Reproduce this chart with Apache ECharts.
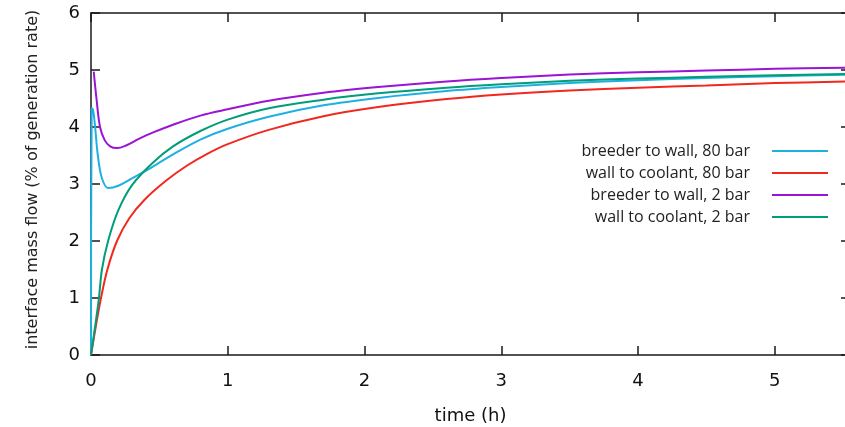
<!DOCTYPE html>
<html>
<head>
<meta charset="utf-8">
<script src="https://cdn.jsdelivr.net/npm/echarts@6/dist/echarts.min.js"></script>
<style>
html, body { margin: 0; padding: 0; background: #fff; }
#chart { width: 845px; height: 427px; }
</style>
</head>
<body>
<div id="chart"></div>
<script>
// names shown in legend
var names = ['breeder to wall, 80 bar', 'wall to coolant, 80 bar', 'breeder to wall, 2 bar', 'wall to coolant, 2 bar'];
var colors = ['#1fb0e2', '#f0281e', '#9a14d6', '#009e78'];

// breeder to wall, 80 bar
var tB80 = [0, 0.005, 0.015, 0.03, 0.05, 0.08, 0.125, 0.2, 0.3, 0.45, 0.6, 0.8, 1.0, 1.3, 1.7, 2.1, 2.6, 3.0, 3.5, 4.0, 4.5, 5.0, 5.55];
var vB80 = [0, 4.33, 4.3, 4.0, 3.5, 3.1, 2.93, 2.97, 3.1, 3.3, 3.52, 3.78, 3.97, 4.18, 4.38, 4.51, 4.63, 4.7, 4.77, 4.82, 4.86, 4.89, 4.92];
// wall to coolant, 80 bar
var tW80 = [0, 0.035, 0.073, 0.12, 0.19, 0.28, 0.39, 0.55, 0.7, 0.85, 1.0, 1.3, 1.7, 2.1, 2.6, 3.0, 3.5, 4.0, 4.5, 5.0, 5.55];
var vW80 = [0, 0.5, 1.0, 1.5, 2.0, 2.4, 2.72, 3.06, 3.32, 3.53, 3.7, 3.95, 4.19, 4.35, 4.49, 4.57, 4.64, 4.69, 4.73, 4.77, 4.8];
// breeder to wall, 2 bar
var tB2 = [0.02, 0.04, 0.066, 0.1, 0.14, 0.19, 0.26, 0.35, 0.45, 0.6, 0.8, 1.0, 1.3, 1.7, 2.1, 2.6, 3.0, 3.5, 4.0, 4.5, 5.0, 5.55];
var vB2 = [4.97, 4.5, 4.0, 3.77, 3.66, 3.63, 3.68, 3.79, 3.9, 4.04, 4.2, 4.31, 4.46, 4.6, 4.7, 4.8, 4.86, 4.92, 4.96, 4.99, 5.02, 5.04];
// wall to coolant, 2 bar
var tW2 = [0, 0.03, 0.058, 0.08, 0.125, 0.2, 0.3, 0.45, 0.6, 0.8, 1.0, 1.3, 1.7, 2.1, 2.6, 3.0, 3.5, 4.0, 4.5, 5.0, 5.55];
var vW2 = [0, 0.5, 1.0, 1.5, 2.0, 2.54, 2.98, 3.37, 3.66, 3.93, 4.13, 4.33, 4.48, 4.59, 4.69, 4.75, 4.81, 4.85, 4.88, 4.91, 4.93];

function pairs(t, v) {
    return t.map(function (x, i) { return [x, v[i]]; });
}
var sets = [pairs(tB80, vB80), pairs(tW80, vW80), pairs(tB2, vB2), pairs(tW2, vW2)];

var chart = echarts.init(document.getElementById('chart'));
var lineCol = '#1a1a1a';
var tickFont = { fontFamily: 'DejaVu Sans', fontSize: 18, color: '#111' };
var boxLine = { onZero: false, lineStyle: { color: lineCol, width: 1.5 } };
var boxTick = { show: true, inside: true, length: 9, lineStyle: { color: lineCol, width: 1.5 } };

chart.setOption({
    animation: false,
    grid: { left: 91, top: 13, right: -5, bottom: 72, outerBoundsMode: 'none' },
    legend: {
        orient: 'vertical',
        right: 17,
        top: 143,
        padding: 0,
        align: 'right',
        itemWidth: 56,
        itemHeight: 14,
        itemGap: 6,
        icon: 'path://M0,0 L56,0 L56,2 L0,2 Z',
        data: names,
        textStyle: { fontFamily: 'Open Sans', fontSize: 16, color: '#222', padding: [0, 17, 0, 0] }
    },
    xAxis: [
        {
            type: 'value', min: 0, max: 5.55, interval: 1,
            name: 'time (h)', nameLocation: 'middle', nameGap: 52,
            nameTextStyle: { fontFamily: 'DejaVu Sans', fontSize: 18, color: '#111' },
            axisLine: boxLine,
            axisTick: boxTick,
            axisLabel: Object.assign({ margin: 17, showMaxLabel: false }, tickFont),
            splitLine: { show: false }
        },
        {
            type: 'value', min: 0, max: 5.55, interval: 1, position: 'top',
            axisLine: boxLine,
            axisTick: boxTick,
            axisLabel: { show: false },
            splitLine: { show: false }
        }
    ],
    yAxis: [
        {
            type: 'value', min: 0, max: 6, interval: 1,
            name: 'interface mass flow (% of generation rate)', nameLocation: 'middle', nameGap: 50,
            nameTextStyle: { fontFamily: 'DejaVu Sans', fontSize: 16, color: '#222', padding: [0, 0, 0, 9] },
            axisLine: Object.assign({ show: true }, boxLine),
            axisTick: boxTick,
            axisLabel: Object.assign({ margin: 11 }, tickFont),
            splitLine: { show: false }
        },
        {
            type: 'value', min: 0, max: 6, interval: 1, position: 'right',
            axisLine: Object.assign({ show: true }, boxLine),
            axisTick: boxTick,
            axisLabel: { show: false },
            splitLine: { show: false }
        }
    ],
    series: names.map(function (n, i) {
        return {
            name: n,
            type: 'line',
            xAxisIndex: 0,
            yAxisIndex: 0,
            data: sets[i],
            symbol: 'none',
            showSymbol: false,
            smooth: 0.35,
            color: colors[i],
            lineStyle: { width: 2, color: colors[i] }
        };
    })
});
</script>
</body>
</html>
